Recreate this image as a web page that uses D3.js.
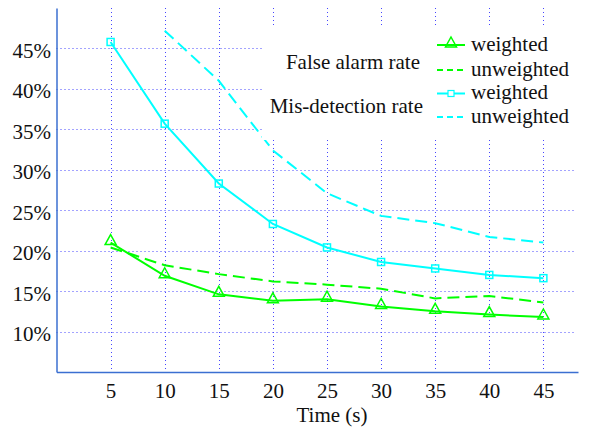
<!DOCTYPE html>
<html>
<head>
<meta charset="utf-8">
<script src="https://cdn.jsdelivr.net/npm/d3@7"></script>
<style>
  html, body { margin: 0; padding: 0; background: #fff; }
  svg { display: block; }
</style>
</head>
<body>
<svg id="chart" width="593" height="431"></svg>
<script>
// Observation window lengths (s)
const times = [5, 10, 15, 20, 25, 30, 35, 40, 45];
// Rates in percent
const falseAlarmWeighted   = [21.0, 16.9, 14.6, 13.8, 14.0, 13.1, 12.5, 12.1, 11.8];
const falseAlarmUnweighted = [20.4, 18.2, 17.1, 16.2, 15.8, 15.3, 14.1, 14.4, 13.6];
const misDetWeighted       = [45.8, 35.7, 28.3, 23.3, 20.4, 18.6, 17.8, 17.0, 16.6];
const misDetUnweighted     = [null, 47.2, 41.0, 32.4, 27.1, 24.3, 23.4, 21.7, 21.0];
const yTicks = [10, 15, 20, 25, 30, 35, 40, 45];
const xTicks = [5, 10, 15, 20, 25, 30, 35, 40, 45];
const xLabel = "Time (s)";
const groupLabels = ["False alarm rate", "Mis-detection rate"];
const seriesNames = ["weighted", "unweighted", "weighted", "unweighted"];

const GREEN = "#00ff00", CYAN = "#00ffff", GRID = "#4646ff", AXIS = "#3b6fd1";
const FONT = 21;
const FAMILY = '"Liberation Serif"';

const svg = d3.select("#chart");
const plotL = 56.5, plotR = 578, plotT = 8, plotB = 372;

const x = d3.scaleLinear().domain([0, 48.2]).range([plotL, plotR]);
const y = d3.scaleLinear().domain([5, 50]).range([plotB, plotT]);

function styleLabel(sel) {
  return sel.attr("font-size", FONT).attr("fill", "#111").style("font-family", FAMILY);
}

// dotted grid
const grid = svg.append("g");
grid.selectAll("line.v").data(xTicks).join("line")
  .attr("x1", d => Math.round(x(d)) + 0.5).attr("x2", d => Math.round(x(d)) + 0.5)
  .attr("y1", plotT).attr("y2", plotB)
  .attr("stroke", GRID).attr("stroke-width", 1).attr("stroke-dasharray", "1,3");
grid.selectAll("line.h").data(yTicks).join("line")
  .attr("x1", plotL).attr("x2", plotR - 3)
  .attr("y1", d => Math.round(y(d)) + 0.5).attr("y2", d => Math.round(y(d)) + 0.5)
  .attr("stroke", GRID).attr("stroke-width", 1).attr("stroke-dasharray", "1,3");

// series
const series = [
  { values: falseAlarmWeighted,   color: GREEN, dash: null,   marker: "tri" },
  { values: falseAlarmUnweighted, color: GREEN, dash: "12,6", marker: null },
  { values: misDetWeighted,       color: CYAN,  dash: null,   marker: "sq" },
  { values: misDetUnweighted,     color: CYAN,  dash: "12,6", marker: null }
];

const line = d3.line()
  .defined(d => d.v != null)
  .x(d => x(d.t)).y(d => y(d.v));

function triPath(cx, cy, w, h) {
  return `M${cx},${cy - h * 0.8}L${cx + w / 2},${cy + h * 0.2}L${cx - w / 2},${cy + h * 0.2}Z`;
}

series.forEach(s => {
  const pts = times.map((t, i) => ({ t, v: s.values[i] }));
  svg.append("path").datum(pts)
    .attr("d", line)
    .attr("fill", "none").attr("stroke", s.color).attr("stroke-width", 2)
    .attr("stroke-dasharray", s.dash);
  const valid = pts.filter(d => d.v != null);
  if (s.marker === "tri") {
    svg.selectAll(null).data(valid).join("path")
      .attr("d", d => triPath(x(d.t), y(d.v), 11, 10))
      .attr("fill", "none").attr("stroke", s.color).attr("stroke-width", 1.5);
  } else if (s.marker === "sq") {
    svg.selectAll(null).data(valid).join("rect")
      .attr("x", d => x(d.t) - 3.5).attr("y", d => y(d.v) - 3.5)
      .attr("width", 7).attr("height", 7)
      .attr("fill", "none").attr("stroke", s.color).attr("stroke-width", 1.5);
  }
});

// axes
const yAxis = svg.append("g").attr("transform", `translate(${plotL},0)`)
  .call(d3.axisLeft(y).tickValues(yTicks).tickFormat(d => d + "%")
    .tickSize(0).tickSizeOuter(0).tickPadding(5.5));
yAxis.attr("font-family", null).attr("font-size", null);
yAxis.select(".domain").attr("stroke", AXIS).attr("stroke-width", 1.5);
styleLabel(yAxis.selectAll("text")).attr("dy", "0.43em");

const xAxis = svg.append("g").attr("transform", `translate(0,${plotB})`)
  .call(d3.axisBottom(x).tickValues(xTicks).tickSize(0).tickSizeOuter(0).tickPadding(11));
xAxis.attr("font-family", null).attr("font-size", null);
xAxis.select(".domain").attr("stroke", AXIS).attr("stroke-width", 1.5);
styleLabel(xAxis.selectAll("text"));

styleLabel(svg.append("text").attr("x", 332).attr("y", 422).attr("text-anchor", "middle"))
  .text(xLabel);

// legend
const lg = svg.append("g");
lg.append("rect").attr("x", 262).attr("y", 27).attr("width", 318).attr("height", 113)
  .attr("fill", "#fff");
styleLabel(lg.append("text").attr("x", 420).attr("y", 68.5).attr("text-anchor", "end"))
  .text(groupLabels[0]);
styleLabel(lg.append("text").attr("x", 423).attr("y", 112.5).attr("text-anchor", "end"))
  .text(groupLabels[1]);

const rowsY = [45, 70, 93.5, 117];
series.forEach((s, i) => {
  const ry = rowsY[i];
  lg.append("line").attr("x1", 437).attr("x2", 465).attr("y1", ry).attr("y2", ry)
    .attr("stroke", s.color).attr("stroke-width", 2)
    .attr("stroke-dasharray", s.dash ? "6,4" : null);
  if (s.marker === "tri") {
    lg.append("path").attr("d", triPath(451, ry, 11, 10))
      .attr("fill", "none").attr("stroke", s.color).attr("stroke-width", 1.5);
  } else if (s.marker === "sq") {
    lg.append("rect").attr("x", 448).attr("y", ry - 3).attr("width", 6).attr("height", 6)
      .attr("fill", "#fff").attr("stroke", s.color).attr("stroke-width", 1.2);
  }
  styleLabel(lg.append("text").attr("x", 471).attr("y", ry + 5.5)).text(seriesNames[i]);
});
</script>
</body>
</html>
